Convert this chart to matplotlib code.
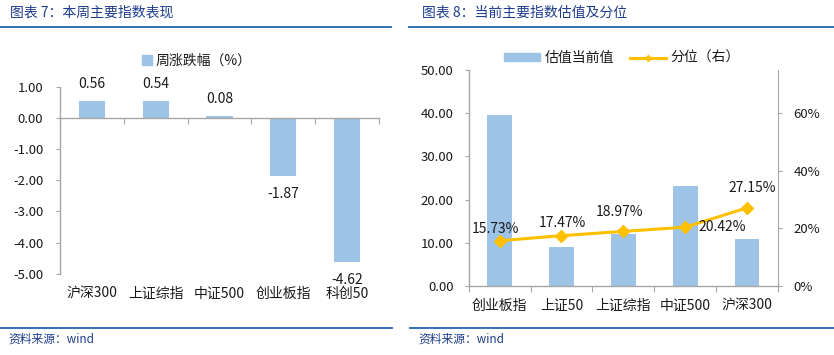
import matplotlib
matplotlib.use('Agg')
import matplotlib.pyplot as plt
from matplotlib.patches import Patch
from matplotlib.lines import Line2D
from matplotlib.ticker import FuncFormatter

plt.rcParams['font.family'] = ['Noto Sans CJK SC', 'DejaVu Sans']

# left chart: weekly change
week_names = ['沪深300', '上证综指', '中证500', '创业板指', '科创50']
week_change = [0.56, 0.54, 0.08, -1.87, -4.62]

# right chart: valuation and percentile
val_names = ['创业板指', '上证50', '上证综指', '中证500', '沪深300']
val_now = [39.5, 9.0, 12.1, 23.2, 10.9]
val_pct = [0.1573, 0.1747, 0.1897, 0.2042, 0.2715]
pct_offsets = [(-4, 12), (1, 13), (-4, 19), (37, 0), (5, 20)]

bar_c = '#9DC3E6'
line_c = '#FFC000'
spine_c = '#A6A6A6'
title_c = '#1E3C8C'
rule_c = '#2167B5'
txt_c = '#1A1A1A'

W, H = 834, 355
fig = plt.figure(figsize=(W / 100, H / 100), dpi=100)


def fx(px):
    return px / W


def fy(py):
    return 1 - py / H


# headers and footers
fig.text(fx(10), fy(13), '图表 7：本周主要指数表现', color=title_c, fontsize=10,
         style='italic', va='center', ha='left')
fig.text(fx(422), fy(13), '图表 8：当前主要指数估值及分位', color=title_c, fontsize=10,
         style='italic', va='center', ha='left')
for x0, x1 in [(0, 391), (409, 834)]:
    fig.add_artist(Line2D([fx(x0), fx(x1)], [fy(27), fy(27)], color=rule_c, lw=1.3))
for x0, x1 in [(0, 392), (410, 834)]:
    fig.add_artist(Line2D([fx(x0), fx(x1)], [fy(328), fy(328)], color=rule_c, lw=1.3))
fig.text(fx(8), fy(339), '资料来源：wind', color=title_c, fontsize=8.5,
         style='italic', va='center', ha='left')
fig.text(fx(418), fy(339), '资料来源：wind', color=title_c, fontsize=8.5,
         style='italic', va='center', ha='left')


def style_axis(ax):
    for s in ['top', 'right']:
        ax.spines[s].set_visible(False)
    for s in ax.spines.values():
        s.set_color(spine_c)
        s.set_linewidth(1)
    ax.tick_params(colors=spine_c, labelcolor=txt_c, length=3, labelsize=9.5)


# ---------- left chart ----------
ax1 = fig.add_axes([fx(60), fy(273.7), fx(379 - 60), (273.7 - 87) / H])
xs = range(len(week_names))
ax1.bar(xs, week_change, width=0.41, color=bar_c, zorder=2)
ax1.set_xlim(-0.5, len(week_names) - 0.5)
ax1.set_ylim(-5, 1)
ax1.set_yticks([1, 0, -1, -2, -3, -4, -5])
ax1.yaxis.set_major_formatter(FuncFormatter(lambda v, p: f'{v:.2f}'))
style_axis(ax1)
ax1.tick_params(axis='y', pad=9)
ax1.spines['bottom'].set_position(('data', 0))
ax1.set_xticks([i - 0.5 for i in range(len(week_names) + 1)])
ax1.set_xticklabels([])
ax1.tick_params(axis='x', length=4)
for i, (n, v) in enumerate(zip(week_names, week_change)):
    dy = 17 if v >= 0 else -18
    ax1.annotate(f'{v:.2f}', (i, v), xytext=(0, dy), textcoords='offset pixels',
                 ha='center', va='center', fontsize=10, color=txt_c)
    ax1.text(i, -0.109, n, transform=ax1.get_xaxis_transform(), ha='center',
             va='center', fontsize=10, color=txt_c)
fig.legend(handles=[Patch(color=bar_c, label='周涨跌幅（%）')],
           loc='center', bbox_to_anchor=(fx(197), fy(61)), frameon=False,
           fontsize=10, handlelength=0.7, handleheight=0.7, handletextpad=0.3,
           borderpad=0, labelcolor=txt_c)

# ---------- right chart ----------
ax2 = fig.add_axes([fx(468.7), fy(286), fx(778 - 468.7), (286 - 70) / H])
xs = range(len(val_names))
ax2.bar(xs, val_now, width=0.4, color=bar_c, zorder=2)
ax2.set_xlim(-0.5, len(val_names) - 0.5)
ax2.set_ylim(0, 50)
ax2.set_yticks(range(0, 51, 10))
ax2.yaxis.set_major_formatter(FuncFormatter(lambda v, p: f'{v:.2f}'))
style_axis(ax2)
ax2.tick_params(axis='y', pad=8)
ax2.set_xticks([i - 0.5 for i in range(len(val_names) + 1)])
ax2.set_xticklabels([])
ax2.tick_params(axis='x', length=4)
for i, n in enumerate(val_names):
    ax2.text(i, -0.092, n, transform=ax2.get_xaxis_transform(), ha='center',
             va='center', fontsize=10, color=txt_c)

ax3 = ax2.twinx()
ax3.plot(range(len(val_pct)), val_pct, color=line_c, lw=2.2, marker='D',
         markersize=6, zorder=3)
ax3.set_ylim(0, 0.75)
ax3.set_yticks([0, 0.2, 0.4, 0.6])
ax3.yaxis.set_major_formatter(FuncFormatter(lambda v, p: f'{v * 100:.0f}%'))
for s in ['top', 'left', 'bottom']:
    ax3.spines[s].set_visible(False)
ax3.spines['right'].set_color(spine_c)
ax3.tick_params(colors=spine_c, labelcolor=txt_c, length=3, labelsize=9.5, pad=8)
for i, (v, off) in enumerate(zip(val_pct, pct_offsets)):
    ax3.annotate(f'{v * 100:.2f}%', (i, v), xytext=off, textcoords='offset pixels',
                 ha='center', va='center', fontsize=10, color=txt_c)

fig.legend(handles=[Patch(color=bar_c, label='估值当前值'),
                    Line2D([], [], color=line_c, lw=2.2, marker='D', markersize=3,
                           label='分位（右）')],
           loc='center', bbox_to_anchor=(fx(622), fy(58)), frameon=False, ncol=2,
           fontsize=10, handlelength=2.6, handleheight=0.45, handletextpad=0.3,
           columnspacing=1.2, borderpad=0, labelcolor=txt_c)

fig.savefig('out.png', dpi=100)
